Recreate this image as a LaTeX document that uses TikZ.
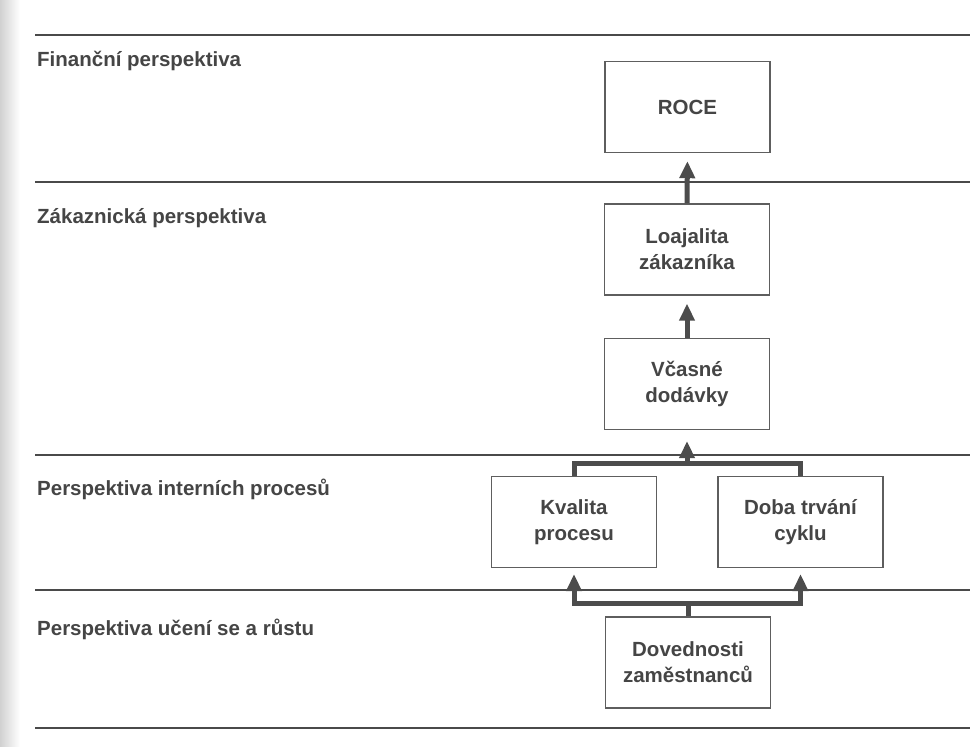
\documentclass[tikz,border=0pt]{standalone}
\usepackage{fontspec}
\setmainfont{Liberation Sans}
\usetikzlibrary{arrows.meta}

\definecolor{ink}{HTML}{454545}
\definecolor{rule}{HTML}{4A4A4A}
\definecolor{frame}{HTML}{5E5E5E}
\definecolor{link}{HTML}{4C4C4C}

\tikzset{
  every node/.style={text=ink, font=\bfseries\fontsize{20.5}{26}\selectfont},
  sep/.style={draw=rule, line width=1.3pt},
  persp/.style={anchor=base west, inner sep=0pt},
  goal/.style={draw=frame, line width=1.4pt, minimum width=165pt,
    minimum height=91pt, align=center, inner sep=2pt},
  link/.style={draw=link, line width=5pt, line join=miter},
  lead/.style={link, -{Triangle[width=15pt,length=17pt]}},
}

\begin{document}
\begin{tikzpicture}[x=1pt,y=-1pt]
  % page and the shaded binding edge
  \fill[white] (0,0) rectangle (970,747);
  \shade[left color=black!18, right color=white] (0,0) rectangle (20,747);
  \useasboundingbox (0,0) rectangle (970,747);

  % perspective separators
  \coordinate (r1a) at (35,35);   \coordinate (r1b) at (970,35);
  \coordinate (r2a) at (35,182);  \coordinate (r2b) at (970,182);
  \coordinate (r3a) at (35,455);  \coordinate (r3b) at (970,455);
  \coordinate (r4a) at (35,590);  \coordinate (r4b) at (970,590);
  \coordinate (r5a) at (35,728);  \coordinate (r5b) at (970,728);
  \foreach \r in {1,...,5} \draw[sep] (r\r a) -- (r\r b);

  % perspective names
  \node[persp] (pfin)  at (37,66)  {Finanční perspektiva};
  \node[persp] (pcust) at (37,223) {Zákaznická perspektiva};
  \node[persp] (pint)  at (37,495) {Perspektiva interních procesů};
  \node[persp] (plearn) at (37,635) {Perspektiva učení se a růstu};

  % objectives
  \node[goal] (roce)    at (687.5,107)   {ROCE};
  \node[goal] (loyal)   at (687,249.5)   {Loajalita\\zákazníka};
  \node[goal] (timely)  at (687,384)     {Včasné\\dodávky};
  \node[goal] (quality) at (574,522)     {Kvalita\\procesu};
  \node[goal] (cycle)   at (800.5,522)   {Doba trvání\\cyklu};
  \node[goal] (skills)  at (688,662.5)   {Dovednosti\\zaměstnanců};

  % cause and effect links
  \draw[lead, shorten >=8pt] (loyal.north) -- (roce.south);
  \draw[lead, shorten >=8pt] (timely.north) -- (loyal.south);

  \coordinate (jproc) at (687,463);
  \draw[link] (quality.north) |- (jproc) -| (cycle.north);
  \draw[lead, shorten >=11pt] (jproc) -- (timely.south);

  \coordinate (jskill) at (688,603);
  \draw[link] (skills.north) -- (jskill);
  \draw[lead, shorten >=6pt] (jskill) -| (quality.south);
  \draw[lead, shorten >=6pt] (jskill) -| (cycle.south);
\end{tikzpicture}
\end{document}
